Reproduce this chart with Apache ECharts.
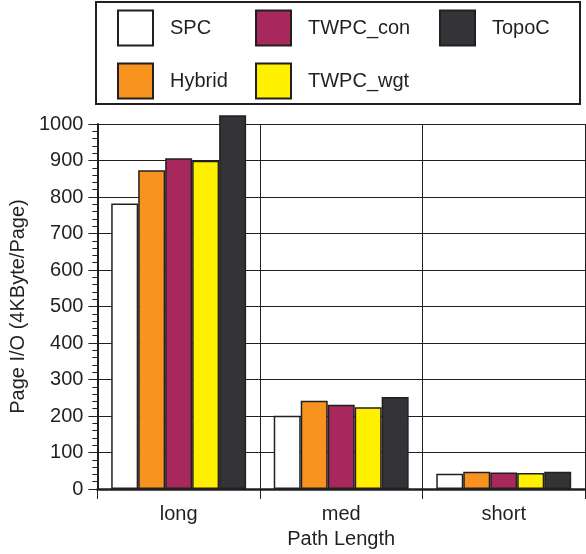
<!DOCTYPE html>
<html>
<head>
<meta charset="utf-8">
<script src="https://cdn.jsdelivr.net/npm/echarts@6/dist/echarts.min.js"></script>
<style>
html,body{margin:0;padding:0;background:#fff;}
#chart{width:586px;height:554px;}
</style>
</head>
<body>
<div id="chart"></div>
<script>
const categories = ['long', 'med', 'short'];
const seriesNames = ['SPC', 'Hybrid', 'TWPC_con', 'TWPC_wgt', 'TopoC'];
const SPC = [782, 201, 42];
const Hybrid = [873, 242, 47];
const TWPC_con = [906, 231, 45];
const TWPC_wgt = [899, 224, 44];
const TopoC = [1024, 252, 47];
const yTicks = [0, 100, 200, 300, 400, 500, 600, 700, 800, 900, 1000];

const colors = ['#ffffff', '#f7931e', '#a6285c', '#fff000', '#343438'];
const values = [SPC, Hybrid, TWPC_con, TWPC_wgt, TopoC];
const ink = '#231f20';
const font = '"Liberation Sans", Arial, Helvetica, sans-serif';

const chart = echarts.init(document.getElementById('chart'), null, {renderer: 'canvas'});

const legendBase = {
  orient: 'vertical',
  top: 9.5,
  padding: 0,
  itemWidth: 35,
  itemHeight: 35,
  itemGap: 16,
  icon: 'rect',
  selectedMode: false,
  textStyle: {fontFamily: font, fontSize: 20, color: ink, padding: [0, 0, 0, 12]}
};

chart.setOption({
  animation: false,
  backgroundColor: '#fff',
  textStyle: {fontFamily: font},
  legend: [
    Object.assign({}, legendBase, {left: 117, data: ['SPC', 'Hybrid']}),
    Object.assign({}, legendBase, {left: 255, data: ['TWPC_con', 'TWPC_wgt']}),
    Object.assign({}, legendBase, {left: 439, data: ['TopoC']})
  ],
  graphic: [{
    type: 'rect',
    shape: {x: 96, y: 2, width: 484, height: 102},
    style: {fill: 'none', stroke: ink, lineWidth: 2},
    silent: true
  }],
  grid: {left: 95, right: 1, top: 124, bottom: 62, containLabel: false},
  xAxis: {
    type: 'category',
    data: categories,
    name: 'Path Length',
    nameLocation: 'middle',
    nameGap: 40,
    nameTextStyle: {fontFamily: font, fontSize: 20, color: ink},
    axisLine: {show: true, lineStyle: {color: ink, width: 2.5}},
    axisTick: {show: true, length: 10, lineStyle: {color: ink, width: 1}},
    axisLabel: {fontFamily: font, fontSize: 20, color: ink, margin: 15},
    splitLine: {show: true, lineStyle: {color: ink, width: 1}}
  },
  yAxis: {
    type: 'value',
    min: 0,
    max: 1000,
    interval: 100,
    name: 'Page I/O (4KByte/Page)',
    nameLocation: 'middle',
    nameGap: 53,
    nameTextStyle: {fontFamily: font, fontSize: 20, color: ink},
    axisLine: {show: true, lineStyle: {color: ink, width: 2}},
    axisTick: {show: true, length: 9, lineStyle: {color: ink, width: 1}},
    minorTick: {show: true, splitNumber: 5, length: 5, lineStyle: {color: ink, width: 1}},
    axisLabel: {
      fontFamily: font, fontSize: 20, color: ink, margin: 14,
      formatter: v => (yTicks.indexOf(v) >= 0 ? String(v) : '')
    },
    splitLine: {show: true, lineStyle: {color: ink, width: 1}}
  },
  series: seriesNames.map((name, i) => ({
    name: name,
    type: 'bar',
    data: values[i],
    clip: false,
    barGap: '0%',
    barCategoryGap: '17%',
    itemStyle: {color: colors[i], borderColor: ink, borderWidth: 1.5}
  }))
});
</script>
</body>
</html>
